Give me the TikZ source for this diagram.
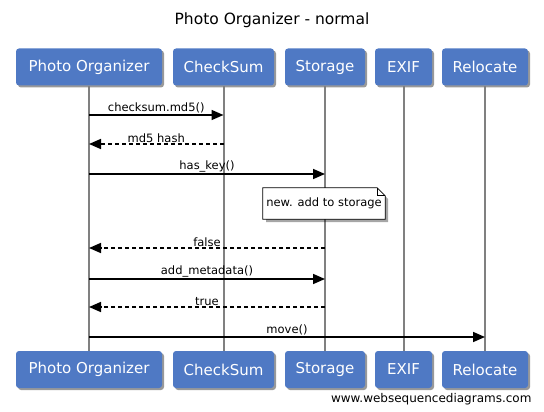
\documentclass[tikz,border=0pt]{standalone}
\usepackage{fontspec}
\setmainfont{DejaVu Sans}
\usetikzlibrary{arrows.meta,shadows}
\definecolor{boxblue}{RGB}{79,121,196}
\begin{document}
\begin{tikzpicture}[x=1pt,y=-1pt,
  actor/.style={fill=boxblue, rounded corners=3pt, text=white,
    font=\fontsize{15}{17}\selectfont, minimum height=37pt, inner sep=0pt,
    drop shadow={shadow xshift=2pt, shadow yshift=-2pt, fill=black, opacity=0.4}},
  life/.style={draw=black!50, line width=2pt},
  msg/.style={draw=black, line width=1.6pt, -{Triangle[length=12pt,width=10pt]}},
  ret/.style={msg, dash pattern=on 4pt off 3pt},
  lbl/.style={font=\fontsize{11.5}{13}\selectfont, inner sep=1pt, anchor=south},
  notebox/.style={fill=white, draw=none, minimum width=122pt, minimum height=31pt,
    inner sep=0pt}
]
\useasboundingbox (0,0) rectangle (544,412);
\node[font=\fontsize{15.5}{18}\selectfont] (title) at (272,20) {Photo Organizer - normal};

% actors top
\node[actor, minimum width=146pt] (poT) at (89,67) {Photo Organizer};
\node[actor, minimum width=101pt] (csT) at (223.5,67) {CheckSum};
\node[actor, minimum width=80pt] (stT) at (325,67) {Storage};
\node[actor, minimum width=57pt] (exT) at (403.5,67) {EXIF};
\node[actor, minimum width=86pt] (reT) at (485,67) {Relocate};
% actors bottom
\node[actor, minimum width=146pt] (poB) at (89,369.5) {Photo Organizer};
\node[actor, minimum width=101pt] (csB) at (223.5,369.5) {CheckSum};
\node[actor, minimum width=80pt] (stB) at (325,369.5) {Storage};
\node[actor, minimum width=57pt] (exB) at (403.5,369.5) {EXIF};
\node[actor, minimum width=86pt] (reB) at (485,369.5) {Relocate};

% lifelines
\draw[life] (poT.south) -- (poB.north);
\draw[life] (csT.south) -- (csB.north);
\draw[life] (stT.south) -- (stB.north);
\draw[life] (exT.south) -- (exB.north);
\draw[life] (reT.south) -- (reB.north);

% message points
\coordinate (po1) at (89,115);  \coordinate (cs1) at (223.5,115);
\coordinate (po2) at (89,144);  \coordinate (cs2) at (223.5,144);
\coordinate (po3) at (89,174);  \coordinate (st3) at (325,174);
\coordinate (po4) at (89,248);  \coordinate (st4) at (325,248);
\coordinate (po5) at (89,279);  \coordinate (st5) at (325,279);
\coordinate (po6) at (89,307);  \coordinate (st6) at (325,307);
\coordinate (po7) at (89,337);  \coordinate (re7) at (485,337);

\draw[msg] (po1) -- node[lbl] {checksum.md5()} (cs1);
\draw[ret] (cs2) -- node[lbl] {md5 hash} (po2);
\draw[msg] (po3) -- node[lbl] {has\_key()} (st3);
\draw[ret] (st4) -- node[lbl] {false} (po4);
\draw[msg] (po5) -- node[lbl] {add\_metadata()} (st5);
\draw[ret] (st6) -- node[lbl] {true} (po6);
\draw[msg] (po7) -- node[lbl] {move()} (re7);

% note
\fill[black, opacity=0.35] (266,191) -- (380,191) -- (388,199) -- (388,222) -- (266,222) -- cycle;
\node[notebox] (nt) at (324,203.5) {};
\draw[black, line width=0.8pt, fill=white] (nt.north west) -- ([xshift=-8pt]nt.north east) -- ([yshift=-8pt]nt.north east) -- (nt.south east) -- (nt.south west) -- cycle;
\draw[black, line width=0.8pt] ([xshift=-8pt]nt.north east) -- ([xshift=-8pt,yshift=-8pt]nt.north east) -- ([yshift=-8pt]nt.north east);
\node[font=\fontsize{11.5}{13}\selectfont] (ntxt) at (nt.center) {new. add to storage};

\node[anchor=east, font=\fontsize{12}{14}\selectfont] (wm) at (535,399) {www.websequencediagrams.com};
\end{tikzpicture}
\end{document}
